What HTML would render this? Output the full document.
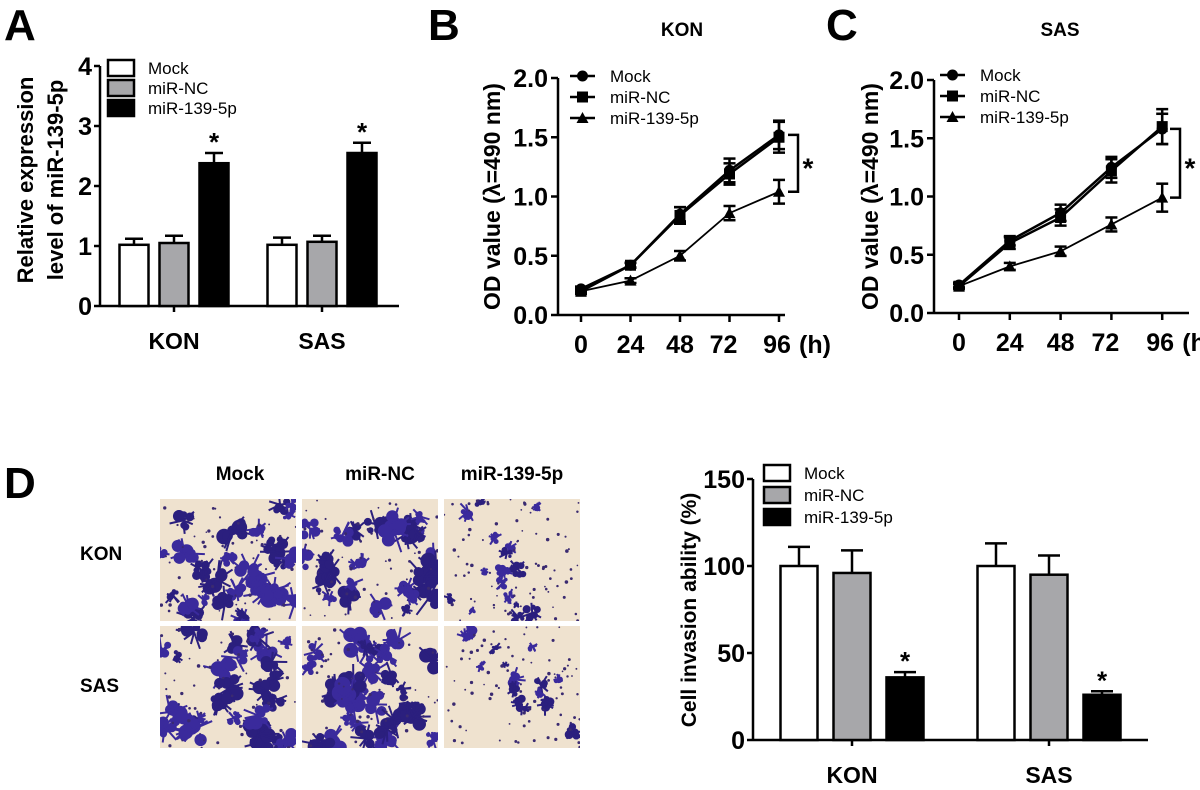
<!DOCTYPE html>
<html><head><meta charset="utf-8"><style>
html,body{margin:0;padding:0;background:#fff;}
svg{display:block;font-family:"Liberation Sans",Arial,sans-serif;}
</style></head><body>
<svg id="fig" width="1200" height="790" viewBox="0 0 1200 790" xmlns="http://www.w3.org/2000/svg">
<g font-weight="bold" font-size="44">
<text x="4" y="40">A</text>
<text x="428" y="40">B</text>
<text x="826" y="40">C</text>
<text x="4" y="498">D</text>
</g>
<g id="A"></g>
<g id="B"></g>
<g id="C"></g>
<g id="M"></g>
<g id="D"></g>
</svg>
<script>
// ---- data ----
const groups = ["KON","SAS"];
const seriesNames = ["Mock","miR-NC","miR-139-5p"];
const aMean = [[1.02,1.05,2.38],[1.02,1.07,2.55]];
const aErr  = [[0.10,0.12,0.17],[0.12,0.10,0.17]];
const aTicks = [0,1,2,3,4];
const timeLabels = ["0","24","48","72","96"];
const bMock = [0.22,0.42,0.85,1.22,1.52];
const bNC   = [0.20,0.42,0.84,1.19,1.50];
const bMiR  = [0.20,0.29,0.50,0.86,1.04];
const bErrMock = [0.02,0.02,0.06,0.10,0.12];
const bErrNC   = [0.02,0.02,0.07,0.09,0.13];
const bErrMiR  = [0.02,0.02,0.04,0.06,0.10];
const cMock = [0.24,0.62,0.86,1.25,1.58];
const cNC   = [0.23,0.60,0.82,1.22,1.60];
const cMiR  = [0.23,0.40,0.53,0.76,0.99];
const cErrMock = [0.02,0.04,0.07,0.09,0.13];
const cErrNC   = [0.02,0.05,0.07,0.10,0.15];
const cErrMiR  = [0.02,0.03,0.04,0.06,0.12];
const odTicks = [0.0,0.5,1.0,1.5,2.0];
const dMean = [[100,96,36],[100,95,26]];
const dErr  = [[11,13,3],[13,11,2]];
const dTicks = [0,50,100,150];

const NS="http://www.w3.org/2000/svg";
function mk(parent,tag,attrs,txt){const e=document.createElementNS(NS,tag);for(const k in attrs)e.setAttribute(k,attrs[k]);if(txt!==undefined)e.textContent=txt;parent.appendChild(e);return e;}
const fills=["#ffffff","#a7a7aa","#000000"];

function barChart(g,o){
  const y=v=>o.y0-(v-o.vmin)/(o.vmax-o.vmin)*(o.y0-o.ytop);
  mk(g,"line",{x1:o.ax,y1:y(o.vmax),x2:o.ax,y2:o.y0,stroke:"#000","stroke-width":2.5});
  mk(g,"line",{x1:o.ax,y1:o.y0,x2:o.xend,y2:o.y0,stroke:"#000","stroke-width":2.5});
  o.ticks.forEach(t=>{
    mk(g,"line",{x1:o.ax-6,y1:y(t),x2:o.ax,y2:y(t),stroke:"#000","stroke-width":2.5});
    const tl=mk(g,"text",{x:o.ax-8,y:y(t)+9,"text-anchor":"end","font-size":o.tfs,"font-weight":"bold"},String(t));
    
    
  });
  groups.forEach((gn,gi)=>{
    const c=o.gcx[gi];
    mk(g,"line",{x1:c,y1:o.y0,x2:c,y2:o.y0+6,stroke:"#000","stroke-width":2.5});
    const xl=mk(g,"text",{x:c,y:o.y0+o.xlOff,"text-anchor":"middle","font-size":o.xfs,"font-weight":"bold"},gn);
    
    
    o.mean[gi].forEach((v,si)=>{
      const bx=c+(si-1)*o.step-o.bw/2;
      const top=y(v+o.err[gi][si]);
      mk(g,"line",{x1:bx+o.bw/2,y1:y(v),x2:bx+o.bw/2,y2:top,stroke:"#000","stroke-width":2.5});
      mk(g,"line",{x1:bx+o.bw/2-o.cap,y1:top,x2:bx+o.bw/2+o.cap,y2:top,stroke:"#000","stroke-width":2.5});
      const r=mk(g,"rect",{x:bx,y:y(v),width:o.bw,height:o.y0-y(v),fill:fills[si],stroke:"#000","stroke-width":2.5});
      
      
      if(si===2){const s=mk(g,"text",{x:bx+o.bw/2,y:top-2,"text-anchor":"middle","font-size":26,"font-weight":"bold"},"*");
        
        }
    });
  });
  seriesNames.forEach((n,i)=>{
    const ly=o.ly+i*o.lstep;
    mk(g,"rect",{x:o.lx,y:ly-8,width:26,height:16,fill:fills[i],stroke:"#000","stroke-width":2.5});
    const t=mk(g,"text",{x:o.lx+40,y:ly+6,"font-size":17},n);
    
    
  });
  const yt=mk(g,"text",{transform:`translate(${o.titleX},${o.titleY}) rotate(-90)`,"text-anchor":"middle","font-size":o.titleFs,"font-weight":"bold"});
  
  
  o.title.forEach((l,i)=>mk(yt,"tspan",{x:0,dy:i===0?0:30},l));
}

barChart(document.getElementById("A"),{ax:100,y0:306,ytop:66,vmin:0,vmax:4,xend:399,ticks:aTicks,tfs:25,
  gcx:[174,322],step:40,bw:29,cap:9,mean:aMean,err:aErr,xfs:23,xlOff:43,lx:108,ly:68,lstep:20,
  titleX:33,titleY:180,titleFs:22,title:["Relative expression","level of miR-139-5p"]});
barChart(document.getElementById("D"),{ax:753,y0:740,ytop:479,vmin:0,vmax:150,xend:1148,ticks:dTicks,tfs:25,
  gcx:[852,1049],step:53,bw:37,cap:11,mean:dMean,err:dErr,xfs:23,xlOff:43,lx:764,ly:473,lstep:22,
  titleX:696,titleY:610,titleFs:21,title:["Cell invasion ability (%)"]});

function lineChart(g,o){
  const y=v=>o.y0-v/2*(o.y0-o.ytop);
  const x=i=>o.x0+i*o.dx;
  mk(g,"line",{x1:o.ax,y1:o.ytop,x2:o.ax,y2:o.y0,stroke:"#000","stroke-width":2.5});
  mk(g,"line",{x1:o.ax,y1:o.y0,x2:o.xend,y2:o.y0,stroke:"#000","stroke-width":2.5});
  odTicks.forEach(t=>{
    mk(g,"line",{x1:o.ax-7,y1:y(t),x2:o.ax,y2:y(t),stroke:"#000","stroke-width":2.5});
    const tl=mk(g,"text",{x:o.ax-10,y:y(t)+9,"text-anchor":"end","font-size":25,"font-weight":"bold"},t.toFixed(1));
    
    
  });
  timeLabels.forEach((l,i)=>{
    mk(g,"line",{x1:x(i),y1:o.y0,x2:x(i),y2:o.y0+7,stroke:"#000","stroke-width":2.5});
    const tl=mk(g,"text",{x:x(i)+(i===3?-6:i===4?-2:0),y:o.y0+38,"text-anchor":"middle","font-size":25,"font-weight":"bold"},l);
    
    
  });
  mk(g,"text",{x:x(4)+20,y:o.y0+38,"font-size":25,"font-weight":"bold"},"(h)");
  const tt=mk(g,"text",{x:o.tx,y:36,"text-anchor":"middle","font-size":19,"font-weight":"bold"},o.title);
  
  
  const yt=mk(g,"text",{transform:`translate(${o.ytx},${(o.y0+o.ytop)/2}) rotate(-90)`,"text-anchor":"middle","font-size":23,"font-weight":"bold"},"OD value (λ=490 nm)");
  
  
  const data=[[o.m,o.em],[o.n,o.en],[o.r,o.er]];
  data.forEach((d,si)=>{
    const pts=d[0].map((v,i)=>x(i)+","+y(v)).join(" ");
    const pl=mk(g,"polyline",{points:pts,fill:"none",stroke:"#000","stroke-width":si===2?1.8:2.5});
    
    
    d[0].forEach((v,i)=>{
      const e=d[1][i], cx=x(i);
      mk(g,"line",{x1:cx,y1:y(v+e),x2:cx,y2:y(v-e),stroke:"#000","stroke-width":2.5});
      mk(g,"line",{x1:cx-6,y1:y(v+e),x2:cx+6,y2:y(v+e),stroke:"#000","stroke-width":2.5});
      mk(g,"line",{x1:cx-6,y1:y(v-e),x2:cx+6,y2:y(v-e),stroke:"#000","stroke-width":2.5});
      marker(g,si,cx,y(v));
    });
  });
  seriesNames.forEach((n,i)=>{
    const ly=o.ly+i*21;
    mk(g,"line",{x1:o.lx,y1:ly,x2:o.lx+25,y2:ly,stroke:"#000","stroke-width":2.5});
    marker(g,i,o.lx+12.5,ly);
    const t=mk(g,"text",{x:o.lx+40,y:ly+6,"font-size":17},n);
    
    
  });
  const bx=o.brx, y1=y(o.m[4]), y2=y(o.r[4]);
  mk(g,"path",{d:`M${bx-10},${y1} H${bx} V${y2} H${bx-10}`,fill:"none",stroke:"#000","stroke-width":2.5});
  const s=mk(g,"text",{x:bx+10,y:(y1+y2)/2+14,"text-anchor":"middle","font-size":28,"font-weight":"bold"},"*");
  
  
}
function marker(g,si,cx,cy){
  if(si===0)mk(g,"circle",{cx:cx,cy:cy,r:5.5,fill:"#000"});
  else if(si===1)mk(g,"rect",{x:cx-5.5,y:cy-5.5,width:11,height:11,fill:"#000"});
  else mk(g,"polygon",{points:`${cx},${cy-6} ${cx-6},${cy+5} ${cx+6},${cy+5}`,fill:"#000"});
}
lineChart(document.getElementById("B"),{ax:558,y0:315,ytop:78,x0:581,dx:49.5,xend:785,title:"KON",tx:682,ytx:500,
  m:bMock,n:bNC,r:bMiR,em:bErrMock,en:bErrNC,er:bErrMiR,lx:570,ly:76,brx:798});
lineChart(document.getElementById("C"),{ax:934,y0:313,ytop:80,x0:959,dx:50.8,xend:1189,title:"SAS",tx:1060,ytx:878,
  m:cMock,n:cNC,r:cMiR,em:cErrMock,en:cErrNC,er:cErrMiR,lx:940,ly:75,brx:1180});

// ---- micrographs (decorative texture) ----
const M=document.getElementById("M");
[["Mock",240],["miR-NC",380],["miR-139-5p",512]].forEach(([t,x])=>{
  const e=mk(M,"text",{x:x,y:480,"text-anchor":"middle","font-size":19,"font-weight":"bold"},t);
  
  
});
[["KON",560],["SAS",692]].forEach(([t,y])=>{
  const e=mk(M,"text",{x:80,y:y,"font-size":19,"font-weight":"bold"},t);
  
  
});
let seed=11;function rnd(){seed=(seed*16807)%2147483647;return seed/2147483647;}
const cols=[160,302,444], rows=[499,626], W=136, H=122;
rows.forEach((ry,ri)=>cols.forEach((cx,ci)=>{
  const cg=mk(M,"g",{});
  
  
  const id="clip"+ri+ci;
  const cp=mk(cg,"clipPath",{id:id});mk(cp,"rect",{x:cx,y:ry,width:W,height:H});
  const inner=mk(cg,"g",{"clip-path":`url(#${id})`});
  mk(inner,"rect",{x:cx,y:ry,width:W,height:H,fill:"#efe2cf"});
  const heavy=ci<2;
  const nb=heavy?30:16;
  for(let k=0;k<nb;k++){
    const bx=cx+rnd()*W, by=ry+rnd()*H;
    const br=heavy?(3+rnd()*6):(1.5+rnd()*3.5);
    const col=rnd()<0.5?"#3a2a9c":"#2b1f7e";
    for(let j=0;j<6;j++){
      mk(inner,"circle",{cx:bx+(rnd()-.5)*br*2.4,cy:by+(rnd()-.5)*br*2.4,r:br*(0.45+rnd()*0.5),fill:col});
    }
    for(let j=0;j<5;j++){
      const a=rnd()*6.283, L=br*(1.5+rnd()*1.2);
      mk(inner,"line",{x1:bx,y1:by,x2:bx+Math.cos(a)*L,y2:by+Math.sin(a)*L,stroke:col,"stroke-width":2});
    }
  }
  for(let k=0;k<(heavy?50:80);k++){
    mk(inner,"circle",{cx:cx+rnd()*W,cy:ry+rnd()*H,r:0.8+rnd()*1,fill:"#3a2a70"});
  }
}));
</script>
</body></html>
